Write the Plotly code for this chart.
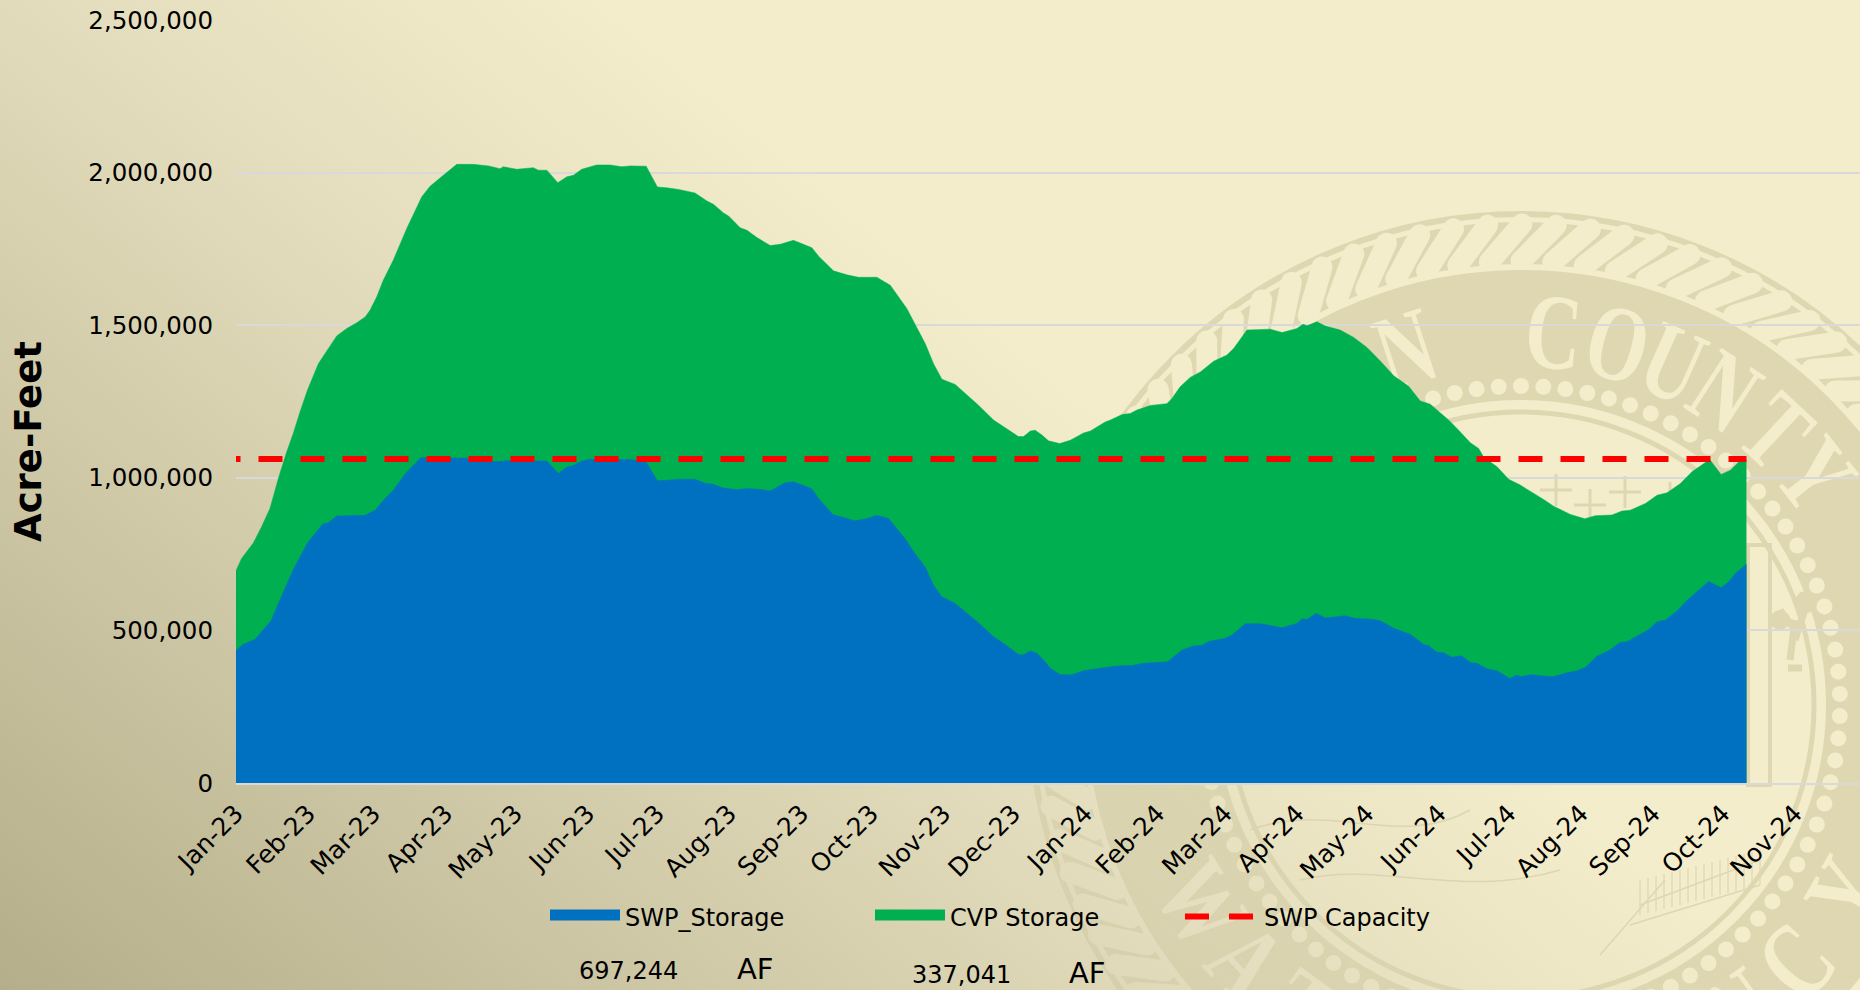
import base64
import math
import pandas as pd
import plotly.graph_objects as go

START_DATE = "2023-01-01"
AXIS_END = "2024-11-29"

# Combined storage (top of the green area): days since START_DATE, acre-feet
total_days = [0, 2.4, 7.5, 11, 14.6, 18.2, 21.8, 24.6, 27.5, 30.7, 35.4, 39.7, 43.3, 47.6, 51.9, 55.5, 57.6, 60.5, 63.3, 67.6, 73.4, 79.8, 83.4, 89.1, 94.9, 102, 108.5, 113.5, 114.9, 120.7, 127.8, 130, 133.6, 138.3, 142.2, 145, 148.6, 155, 160.8, 165.8, 169.4,
              176.3, 181.1, 185.2, 190.2, 197.3, 202.4, 205.2, 209.5, 211.7, 216.7, 219.6, 223.9, 229.6, 233.9, 239.6, 247.5, 250.4, 256.8, 262.5, 267.5, 275.4, 281.2, 288.3, 292.6, 296.2, 299.8, 303.4, 309.1, 314.1, 319.1, 325.6, 330.6, 336.3, 338.5,
              341.4, 343.5, 346.4, 349.2, 354, 358.6, 364.3, 367.2, 373.6, 375.8, 380.8, 384.4, 387.2, 393, 400.1, 402.3, 405.8, 410.1, 414.5, 420.2, 425.9, 428.8, 434.5, 444.5, 449.6, 456, 458.6, 460.3, 464.6, 468.2, 474.6, 480.4, 486.1, 491.8, 497.6, 504, 509, 513.3,
              521.2, 525.5, 530.5, 534.1, 536.3, 542, 547, 552, 556.3, 562, 566.3, 573.5, 579.7, 584.3, 591.4, 595.7, 599.3, 605.8, 610.8, 615.1, 620.8, 625.8, 633.4, 638.3, 642.3, 645.9, 649.2]
total_af = [695400, 735800, 787100, 839500, 899600, 997800, 1085000, 1145000, 1216000, 1287000, 1374000, 1424000, 1465000, 1489000, 1508000, 1527000, 1549000, 1593000, 1647000, 1713000, 1817000, 1920000, 1955000, 1991000, 2027000, 2027000, 2022000, 2013000, 2019000, 2011000, 2016000, 2008000, 2008000, 1967000, 1986000, 1991000, 2011000, 2025000, 2025000, 2019000, 2022000,
            2021000, 1953000, 1950000, 1945000, 1933000, 1907000, 1896000, 1868000, 1858000, 1819000, 1811000, 1787000, 1761000, 1765000, 1778000, 1754000, 1726000, 1678000, 1665000, 1657000, 1657000, 1631000, 1555000, 1495000, 1440000, 1374000, 1323000, 1306000, 1271000, 1238000, 1189000, 1165000, 1135000, 1135000,
            1153000, 1156000, 1140000, 1121000, 1112000, 1123000, 1147000, 1153000, 1183000, 1189000, 1207000, 1211000, 1222000, 1237000, 1243000, 1260000, 1298000, 1329000, 1347000, 1382000, 1402000, 1424000, 1484000, 1487000, 1476000, 1489000, 1503000, 1498000, 1511000, 1497000, 1484000, 1460000, 1427000, 1383000, 1334000, 1300000, 1252000, 1241000,
            1189000, 1156000, 1115000, 1096000, 1067000, 1036000, 995000, 976000, 957000, 929000, 907000, 880000, 866000, 876000, 878000, 891000, 894000, 916000, 943000, 951000, 981000, 1020000, 1060000, 1011000, 1025000, 1052000, 1060000]

# SWP storage (top of the blue area): days since START_DATE, acre-feet
swp_days = [0, 3.2, 8.2, 15, 19, 24.7, 30.7, 37.3, 39.7, 43.3, 55.5, 59.8, 63.3, 67.6, 72.8, 79.4, 86.3, 100.6, 109.2, 113.5, 114.9, 126.3, 130, 133.6, 138.6, 142.2, 145, 148.6, 152.2, 169.4,
            176.3, 181.1, 185.2, 190.2, 197.3, 202, 205.2, 208.9, 215.3, 219.6, 225.3, 229.6, 236, 239.6, 247.5, 250.4, 256.5, 261, 266, 271, 275.4, 280.4, 287.5, 291.8, 296.2, 299.8, 303.4, 309.1, 314.1, 319.1, 325.6, 330.6, 336.3, 338.5,
            341.4, 344.2, 347.1, 350, 354.3, 359.3, 364.3, 371.5, 377.9, 385.1, 390, 400.4, 403, 406.6, 411.6, 415.2, 418, 425.2, 428.1, 433.8, 440.2, 444.5, 449.6, 456, 458.2, 460.3, 464.3, 468.2, 476.8, 481.1, 487.5, 491.8, 497.6, 504.7,
            510.5, 512.6, 516.2, 519, 522.6, 526.7, 530.5, 533.4, 537.7, 542, 547.4, 550.6, 552.3, 556.3, 562, 565.9, 572.1, 576.4, 580, 585, 590, 595, 597.9, 607.2, 610.8, 614.4, 619.4, 623.7, 628.7, 633, 638.3, 641.6, 644.5, 649.2]
swp_af = [434000, 455000, 471000, 531000, 602000, 700000, 786000, 849000, 853000, 875000, 877000, 894000, 926000, 959000, 1014000, 1066000, 1066000, 1064000, 1053000, 1053000, 1056000, 1056000, 1057000, 1055000, 1014000, 1035000, 1040000, 1055000, 1061000, 1060000,
          1052000, 990000, 992000, 995000, 995000, 981000, 979000, 967000, 961000, 965000, 962000, 957000, 984000, 987000, 964000, 932000, 880000, 869000, 859000, 866000, 877000, 867000, 801000, 752000, 708000, 648000, 610000, 588000, 558000, 525000, 479000, 454000, 421000, 420000,
          433000, 425000, 403000, 376000, 355000, 355000, 368000, 376000, 383000, 385000, 392000, 397000, 414000, 436000, 449000, 451000, 464000, 474000, 485000, 522000, 522000, 517000, 509000, 523000, 538000, 536000, 556000, 541000, 548000, 539000, 537000, 532000, 507000, 487000,
          454000, 450000, 428000, 427000, 412000, 417000, 395000, 392000, 374000, 368000, 342000, 354000, 348000, 355000, 352000, 348000, 361000, 368000, 379000, 416000, 433000, 461000, 463000, 503000, 528000, 534000, 564000, 599000, 632000, 660000, 640000, 659000, 687000, 717000]

capacity_days = [0, 649.2]
capacity_af = [1062000, 1062000]

y_ticks = [0, 500000, 1000000, 1500000, 2000000, 2500000]
swp_note = "697,244"
cvp_note = "337,041"
unit_note = "AF"

series_names = ["SWP_Storage", "CVP Storage", "SWP Capacity"]
GREEN, BLUE, RED = "#00B050", "#0070C0", "#FF0000"
GRID = "#D9D9D9"
FONT = "DejaVu Sans"

W, H = 1860, 990
L, T, B = 236, 20, 207
PW, PH = W - L, H - T - B


def px_x(px):
    return (px - L) / PW


def px_y(py):
    return (H - B - py) / PH


def seal_svg():
    cx, cy = 1521, 705
    m = []

    def letter(ch, ang, y):
        return (f'<text transform="rotate({ang} {cx} {cy}) translate({cx} {y}) scale(0.72 1)" text-anchor="middle" '
                f'font-family="Liberation Serif" font-weight="bold" font-size="108" fill="#000">{ch}</text>')

    # outer ring and rope
    m.append(f'<circle cx="{cx}" cy="{cy}" r="491" fill="none" stroke="#fff" stroke-width="6"/>')
    m.append(f'<circle cx="{cx}" cy="{cy}" r="462" fill="none" stroke="#fff" stroke-width="42"/>')
    for i in range(88):
        a = math.radians(i * 360 / 88)
        b = a + math.radians(4.2)
        x1 = cx + 444 * math.sin(a)
        y1 = cy - 444 * math.cos(a)
        x2 = cx + 481 * math.sin(b)
        y2 = cy - 481 * math.cos(b)
        m.append(f'<line x1="{x1:.1f}" y1="{y1:.1f}" x2="{x2:.1f}" y2="{y2:.1f}" stroke="#000" stroke-width="21" stroke-linecap="round"/>')
    # lettered band
    m.append(f'<circle cx="{cx}" cy="{cy}" r="370" fill="none" stroke="#fff" stroke-width="130"/>')
    for ch, ang in zip("KERNCOUNTY", [-46, -36, -27, -18, 5, 15, 24, 33, 43, 52]):
        m.append(letter(ch, ang, cy - 338))
    for ch, ang in zip("WATERAGENCY", [58, 47, 36, 25, 14, -3, -14, -25, -36, -47, -60]):
        m.append(letter(ch, ang, cy + 412))
    for i in range(90):
        a = math.radians(i * 4)
        m.append(f'<circle cx="{cx + 319 * math.sin(a):.1f}" cy="{cy - 319 * math.cos(a):.1f}" r="8" fill="#000"/>')
    # inner ring
    m.append(f'<circle cx="{cx}" cy="{cy}" r="293" fill="none" stroke="#fff" stroke-width="5"/>')
    # birds, derrick frame, tree and valley lines inside the disc
    for bx, by in [(1505, 500), (1556, 490), (1590, 505), (1625, 492), (1670, 498)]:
        m.append(f'<path d="M{bx - 16},{by} L{bx + 16},{by} M{bx},{by - 16} L{bx},{by + 16}" stroke="#fff" stroke-width="3"/>')
    m.append('<rect x="1748" y="545" width="22" height="240" fill="none" stroke="#fff" stroke-width="4"/>')
    m.append('<path d="M1790,660 L1795,620 M1795,640 L1808,600 M1795,630 L1780,610 M1788,668 L1802,668" stroke="#fff" stroke-width="7"/>')
    m.append('<circle cx="1780" cy="620" r="10" fill="#fff"/><circle cx="1806" cy="602" r="11" fill="#fff"/>')
    m.append('<path d="M1640,905 L1760,860 M1630,925 L1760,885 M1600,955 L1665,880 M1250,830 C1330,800 1400,850 1470,810 M1300,880 C1380,860 1460,900 1560,870" stroke="#fff" stroke-width="1.5" fill="none"/>')
    for i in range(16):
        m.append(f'<line x1="{1640 + i * 8}" y1="{880 - i * 2}" x2="{1640 + i * 8}" y2="{915 - i * 2}" stroke="#fff" stroke-width="1.2"/>')
    body = "".join(m)
    grad = 'gradientUnits="userSpaceOnUse" x1="0" y1="990" x2="736" y2="104"'
    return (
        f'<svg xmlns="http://www.w3.org/2000/svg" width="{W}" height="{H}" viewBox="0 0 {W} {H}">'
        f'<defs><linearGradient id="g" {grad}>'
        '<stop offset="0" stop-color="#B5AE8A"/><stop offset="0.69" stop-color="#E3DDBD"/>'
        '<stop offset="1" stop-color="#F3EDCB"/></linearGradient>'
        f'<linearGradient id="s" {grad}>'
        '<stop offset="0.55" stop-color="#6B5F20" stop-opacity="0.06"/>'
        '<stop offset="1" stop-color="#6B5F20" stop-opacity="0.15"/></linearGradient>'
        f'<mask id="m" maskUnits="userSpaceOnUse" x="0" y="0" width="{W}" height="{H}">'
        f'<rect width="{W}" height="{H}" fill="#000"/>{body}</mask></defs>'
        f'<rect width="{W}" height="{H}" fill="url(#g)"/>'
        f'<rect width="{W}" height="{H}" fill="url(#s)" mask="url(#m)"/></svg>'
    )


def to_dates(days):
    base = pd.Timestamp(START_DATE)
    return [base + pd.Timedelta(days=d) for d in days]


fig = go.Figure()
fig.add_trace(go.Scatter(x=to_dates(total_days), y=total_af, mode="lines", fill="tozeroy",
                         fillcolor=GREEN, line=dict(color=GREEN, width=0.5), name=series_names[1],
                         showlegend=False))
fig.add_trace(go.Scatter(x=to_dates(swp_days), y=swp_af, mode="lines", fill="tozeroy",
                         fillcolor=BLUE, line=dict(color=BLUE, width=0.5), name=series_names[0],
                         showlegend=False))
dash = "4.5px,18px," + ",".join(["24px,18px"] * 40)
fig.add_trace(go.Scatter(x=to_dates(capacity_days), y=capacity_af, mode="lines",
                         line=dict(color=RED, width=6, dash=dash), name=series_names[2],
                         showlegend=False))
# legend keys
fig.add_trace(go.Scatter(x=[None], y=[None], mode="lines", fill="tozeroy", fillcolor=BLUE,
                         line=dict(color=BLUE, width=10), name=series_names[0], legend="legend"))
fig.add_trace(go.Scatter(x=[None], y=[None], mode="lines", fill="tozeroy", fillcolor=GREEN,
                         line=dict(color=GREEN, width=10), name=series_names[1], legend="legend2"))
fig.add_trace(go.Scatter(x=[None], y=[None], mode="lines",
                         line=dict(color=RED, width=6, dash="24px,20px,24px,60px"),
                         name=series_names[2], legend="legend3"))

legend_common = dict(orientation="h", xanchor="left", yanchor="middle", bgcolor="rgba(0,0,0,0)",
                     font=dict(family=FONT, size=24, color="#000"), y=px_y(917), itemwidth=70,
                     itemclick=False, itemdoubleclick=False)

annotations = [
    dict(text="Acre-Feet", x=px_x(28), y=px_y(441), textangle=-90, font=dict(size=37, color="#000", family=FONT, weight="bold")),
    dict(text=swp_note, x=px_x(628), y=px_y(971), font=dict(size=24)),
    dict(text=unit_note, x=px_x(755), y=px_y(969), font=dict(size=29)),
    dict(text=cvp_note, x=px_x(961), y=px_y(975), font=dict(size=24)),
    dict(text=unit_note, x=px_x(1087), y=px_y(973), font=dict(size=29)),
]
for a in annotations:
    a.update(xref="paper", yref="paper", showarrow=False, xanchor="center", yanchor="middle")
    a["font"] = {"family": FONT, "color": "#000", **a["font"]}

fig.update_layout(
    width=W, height=H, autosize=False,
    margin=dict(l=L, r=0, t=T, b=B, pad=0),
    paper_bgcolor="rgba(0,0,0,0)", plot_bgcolor="rgba(0,0,0,0)",
    font=dict(family=FONT, size=24, color="#000"),
    legend=dict(legend_common, x=px_x(545)),
    legend2=dict(legend_common, x=px_x(870)),
    legend3=dict(legend_common, x=px_x(1180), itemwidth=74),
    annotations=annotations,
    images=[dict(source="data:image/svg+xml;base64," + base64.b64encode(seal_svg().encode()).decode(),
                 xref="paper", yref="paper", x=px_x(0), y=px_y(0), sizex=W / PW, sizey=H / PH,
                 xanchor="left", yanchor="top", sizing="stretch", layer="below")],
    xaxis=dict(type="date", range=[START_DATE, AXIS_END], dtick="M1", tick0=START_DATE,
               tickformat="%b-%y", tickangle=-45, showgrid=False, zeroline=False, showline=True,
               linecolor=GRID, linewidth=2, ticks="", tickfont=dict(size=25, family=FONT, color="#000"),
               ticklabelstandoff=4, automargin=False),
    yaxis=dict(range=[0, 2500000], tickvals=y_ticks, tickformat=",d", showgrid=True, gridcolor=GRID,
               gridwidth=2, zeroline=False, showline=False, ticks="", ticklabelstandoff=22,
               tickfont=dict(size=24.5, family=FONT, color="#000"), automargin=False),
)

fig.write_html("out.html", config={"displayModeBar": False},
               post_script="document.body.style.margin='0';document.documentElement.style.overflow='hidden';")
